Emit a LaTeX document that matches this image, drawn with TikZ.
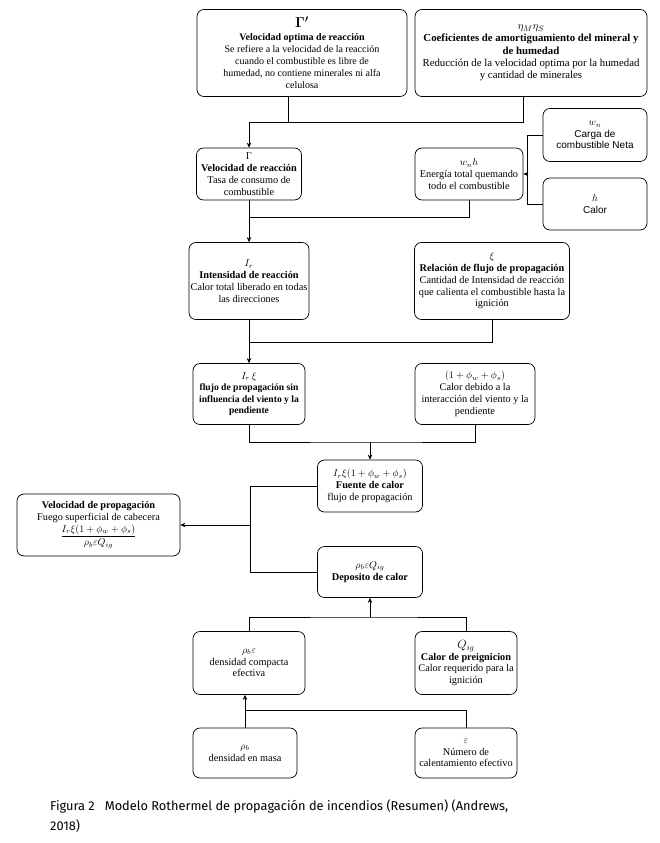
\documentclass[tikz,border=0pt]{standalone}
\usepackage{fontspec}
\usepackage{amsmath}
\setmainfont{Liberation Serif}
\setsansfont{Liberation Sans}
\newfontfamily\capfont{Fira Sans}
\usetikzlibrary{arrows.meta}
\begin{document}
\begin{tikzpicture}[x=1pt,y=-1pt,
  box/.style={draw, line width=0.7pt, rounded corners=7pt, align=center, inner sep=1pt,
    font=\fontsize{10.3}{11.8}\selectfont},
  sbox/.style={box, font=\sffamily\fontsize{10}{11.5}\selectfont},
  wire/.style={line width=0.8pt},
  arr/.style={wire, -{Stealth[length=5pt,width=4.5pt]}}]
\useasboundingbox (0,0) rectangle (659,843);
\fill[white] (0,0) rectangle (659,843);

\node[box, font=\fontsize{10}{12.2}\selectfont, minimum width=210pt, minimum height=87pt] (gp) at (302,53)
 {{\fontsize{14}{14}\selectfont$\boldsymbol{\Gamma'}$}\\ \textbf{Velocidad optima de reacción}\\ Se refiere a la velocidad de la reacción\\ cuando el combustible es libre de\\ humedad, no contiene minerales ni alfa\\ celulosa};
\node[box, font=\fontsize{10.8}{12.4}\selectfont, minimum width=232pt, minimum height=87pt] (eta) at (531,53)
 {$\eta_M\eta_S$\\ \textbf{Coeficientes de amortiguamiento del mineral y}\\ \textbf{de humedad}\\ Reducción de la velocidad optima por la humedad\\ y cantidad de minerales};

\node[box, minimum width=105pt, minimum height=52pt] (gam) at (249,174)
 {$\Gamma$\\ \textbf{Velocidad de reacción}\\ Tasa de consumo de\\ combustible};
\node[box, minimum width=108pt, minimum height=52pt] (wnh) at (469,174)
 {$w_n h$\\ Energía total quemando\\ todo el combustible};
\node[sbox, minimum width=104pt, minimum height=53pt] (wn) at (595,135)
 {$w_n$\\ Carga de\\ combustible Neta};
\node[sbox, minimum width=104pt, minimum height=52pt] (h) at (595,204)
 {$h$\\ Calor};

\node[box, minimum width=120pt, minimum height=77pt] (ir) at (249,281)
 {$I_r$\\ \textbf{Intensidad de reacción}\\ Calor total liberado en todas\\ las direcciones};
\node[box, minimum width=155pt, minimum height=77pt] (xi) at (492,281)
 {$\xi$\\ \textbf{Relación de flujo de propagación}\\ Cantidad de Intensidad de reacción\\ que calienta el combustible hasta la\\ ignición};

\node[box, font=\fontsize{9.6}{11.4}\selectfont, minimum width=112pt, minimum height=61pt] (ire) at (249,394)
 {$I_r\,\xi$\\ \textbf{flujo de propagación sin}\\ \textbf{influencia del viento y la}\\ \textbf{pendiente}};
\node[box, minimum width=120pt, minimum height=61pt] (phi) at (475,394)
 {$(1+\phi_w+\phi_s)$\\ Calor debido a la\\ interacción del viento y la\\ pendiente};

\node[box, minimum width=105pt, minimum height=52pt] (fu) at (370,486)
 {$I_r\xi(1+\phi_w+\phi_s)$\\ \textbf{Fuente de calor}\\ flujo de propagación};
\node[box, minimum width=163pt, minimum height=62pt] (vel) at (98.5,525)
 {\textbf{Velocidad de propagación}\\ Fuego superficial de cabecera\\[1pt] $\dfrac{I_r\xi(1+\phi_w+\phi_s)}{\rho_b\varepsilon Q_{ig}}$};
\node[box, minimum width=105pt, minimum height=51pt] (dep) at (370,572)
 {$\rho_b\varepsilon Q_{ig}$\\ \textbf{Deposito de calor}};

\node[box, minimum width=112pt, minimum height=63pt] (rbe) at (249,663)
 {$\rho_b\varepsilon$\\ densidad compacta\\ efectiva};
\node[box, minimum width=102pt, minimum height=63pt] (qig) at (466,663)
 {{\fontsize{12}{12}\selectfont$Q_{ig}$}\\ \textbf{Calor de preignicion}\\ Calor requerido para la\\ ignición};

\node[box, minimum width=104pt, minimum height=50pt] (rb) at (245,753)
 {$\rho_b$\\ densidad en masa};
\node[box, minimum width=102pt, minimum height=50pt] (eps) at (466,753)
 {$\varepsilon$\\ Número de\\ calentamiento efectivo};

% connectors
\coordinate (j1) at (249,122);
\draw[wire] ([xshift=-14pt]gp.south) |- (j1);
\draw[wire] ([xshift=-8pt]eta.south) |- (j1);
\draw[arr] (j1) -- (gam.north);

\coordinate (j2) at (527,174);
\draw[wire] (wn.west) -| (j2);
\draw[wire] (h.west) -| (j2);
\draw[arr] (j2) -- (wnh.east);

\coordinate (j3) at (249,217);
\draw[wire] (wnh.south) |- (j3);
\draw[wire] (gam.south) -- (j3);
\draw[arr] (j3) -- (ir.north);

\coordinate (j4) at (249,342);
\draw[wire] (xi.south) |- (j4);
\draw[wire] (ir.south) -- (j4);
\draw[arr] (j4) -- (ire.north);

\coordinate (j5) at (370,442);
\draw[wire] (ire.south) |- (j5) -| (phi.south);
\draw[arr] (j5) -- (fu.north);

\coordinate (j6) at (250,525);
\draw[wire] (fu.west) -| (j6);
\draw[wire] (dep.west) -| (j6);
\draw[arr] (j6) -- (vel.east);

\coordinate (j7) at (370,617);
\draw[wire] (rbe.north) |- (j7) -| (qig.north);
\draw[arr] (j7) -- (dep.south);

\coordinate (j8) at (245,710);
\draw[wire] (eps.north) |- (j8);
\draw[arr] (rb.north) -- (rb.north |- rbe.south);

% caption
\node[anchor=base west, inner sep=0pt, font=\capfont\fontsize{12.8}{15}\selectfont] (cap1) at (50,810)
 {Figura 2\hspace{10pt}Modelo Rothermel de propagación de incendios (Resumen) (Andrews,};
\node[anchor=base west, inner sep=0pt, font=\capfont\fontsize{12.8}{15}\selectfont] (cap2) at (50,830) {2018)};
\end{tikzpicture}
\end{document}
